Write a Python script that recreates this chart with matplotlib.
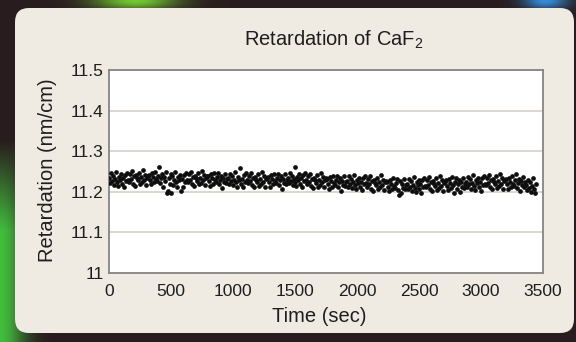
import numpy as np
import matplotlib
matplotlib.use("Agg")
import matplotlib.pyplot as plt
from matplotlib.patches import FancyBboxPatch

plt.rcParams['font.family'] = ['Liberation Sans', 'DejaVu Sans']
plt.rcParams['mathtext.fontset'] = 'custom'
plt.rcParams['mathtext.rm'] = 'Liberation Sans'

# Retardation readings of the CaF2 sample (nm/cm), logged every 8 s
SAMPLE_INTERVAL_S = 8
retardation = [
    11.234, 11.221, 11.246, 11.227, 11.240, 11.217, 11.231, 11.250, 11.224, 11.214, 11.237, 11.230, 11.243, 11.220, 11.233, 11.212, 11.242, 11.226, 11.247, 11.229,
    11.225, 11.244, 11.231, 11.251, 11.220, 11.238, 11.215, 11.241, 11.234, 11.228, 11.247, 11.219, 11.236, 11.223, 11.253, 11.229, 11.242, 11.217, 11.235, 11.239,
    11.242, 11.229, 11.218, 11.246, 11.236, 11.223, 11.250, 11.231, 11.226, 11.239, 11.260, 11.221, 11.233, 11.243, 11.213, 11.237, 11.227, 11.248, 11.197, 11.203,
    11.233, 11.220, 11.245, 11.197, 11.239, 11.216, 11.230, 11.249, 11.223, 11.213, 11.236, 11.229, 11.242, 11.201, 11.232, 11.211, 11.241, 11.225, 11.246, 11.228,
    11.224, 11.243, 11.230, 11.250, 11.219, 11.237, 11.214, 11.240, 11.233, 11.227, 11.246, 11.218, 11.235, 11.222, 11.252, 11.228, 11.241, 11.216, 11.234, 11.238,
    11.239, 11.226, 11.215, 11.243, 11.233, 11.220, 11.247, 11.228, 11.223, 11.236, 11.246, 11.218, 11.230, 11.240, 11.210, 11.234, 11.224, 11.245, 11.221, 11.231,
    11.233, 11.220, 11.245, 11.226, 11.239, 11.216, 11.230, 11.249, 11.223, 11.213, 11.236, 11.229, 11.258, 11.219, 11.232, 11.211, 11.241, 11.225, 11.246, 11.228,
    11.221, 11.240, 11.227, 11.247, 11.216, 11.234, 11.211, 11.237, 11.230, 11.224, 11.243, 11.215, 11.232, 11.219, 11.249, 11.225, 11.238, 11.213, 11.231, 11.235,
    11.237, 11.224, 11.213, 11.241, 11.231, 11.218, 11.245, 11.226, 11.221, 11.234, 11.244, 11.216, 11.228, 11.238, 11.208, 11.232, 11.222, 11.243, 11.219, 11.229,
    11.234, 11.221, 11.246, 11.227, 11.240, 11.217, 11.231, 11.260, 11.224, 11.214, 11.237, 11.230, 11.243, 11.220, 11.233, 11.212, 11.242, 11.226, 11.247, 11.229,
    11.219, 11.238, 11.225, 11.245, 11.214, 11.232, 11.209, 11.235, 11.228, 11.222, 11.241, 11.213, 11.230, 11.217, 11.247, 11.223, 11.236, 11.211, 11.229, 11.233,
    11.232, 11.219, 11.208, 11.236, 11.226, 11.213, 11.240, 11.221, 11.216, 11.229, 11.239, 11.211, 11.223, 11.233, 11.203, 11.227, 11.217, 11.238, 11.214, 11.224,
    11.226, 11.213, 11.238, 11.219, 11.232, 11.209, 11.223, 11.242, 11.216, 11.206, 11.229, 11.222, 11.235, 11.212, 11.225, 11.204, 11.234, 11.218, 11.239, 11.221,
    11.213, 11.232, 11.219, 11.239, 11.208, 11.226, 11.203, 11.229, 11.222, 11.216, 11.235, 11.207, 11.224, 11.211, 11.241, 11.217, 11.230, 11.205, 11.223, 11.227,
    11.225, 11.212, 11.201, 11.229, 11.219, 11.206, 11.233, 11.214, 11.209, 11.222, 11.232, 11.204, 11.192, 11.226, 11.198, 11.220, 11.210, 11.231, 11.207, 11.217,
    11.220, 11.207, 11.232, 11.213, 11.226, 11.203, 11.217, 11.236, 11.210, 11.200, 11.223, 11.216, 11.229, 11.206, 11.219, 11.198, 11.228, 11.212, 11.233, 11.215,
    11.211, 11.230, 11.217, 11.237, 11.206, 11.224, 11.201, 11.227, 11.220, 11.214, 11.233, 11.205, 11.222, 11.209, 11.239, 11.215, 11.228, 11.203, 11.221, 11.225,
    11.228, 11.215, 11.204, 11.232, 11.222, 11.209, 11.236, 11.217, 11.196, 11.225, 11.235, 11.207, 11.219, 11.229, 11.199, 11.223, 11.213, 11.234, 11.210, 11.220,
    11.225, 11.212, 11.237, 11.218, 11.231, 11.208, 11.222, 11.241, 11.215, 11.205, 11.228, 11.221, 11.234, 11.211, 11.224, 11.203, 11.233, 11.217, 11.238, 11.220,
    11.216, 11.235, 11.222, 11.242, 11.211, 11.229, 11.206, 11.232, 11.225, 11.219, 11.238, 11.210, 11.227, 11.214, 11.244, 11.220, 11.233, 11.208, 11.226, 11.230,
    11.231, 11.218, 11.207, 11.235, 11.225, 11.212, 11.239, 11.220, 11.215, 11.228, 11.245, 11.210, 11.222, 11.232, 11.202, 11.226, 11.216, 11.237, 11.213, 11.223,
    11.217, 11.204, 11.229, 11.210, 11.223, 11.200, 11.214, 11.233, 11.207, 11.197, 11.220,
]
time_s = np.arange(len(retardation)) * SAMPLE_INTERVAL_S

x_ticks = [0, 500, 1000, 1500, 2000, 2500, 3000, 3500]
y_ticks = [11.0, 11.1, 11.2, 11.3, 11.4, 11.5]
y_tick_labels = ['11', '11.1', '11.2', '11.3', '11.4', '11.5']

W, H = 576, 342
fig = plt.figure(figsize=(W / 100, H / 100), dpi=100)

# Dark backdrop with coloured glows behind the card
bg = fig.add_axes([0, 0, 1, 1], zorder=-10)
yy, xx = np.mgrid[0:H, 0:W].astype(float)
base = np.array([0.16, 0.11, 0.12])
img = np.ones((H, W, 3)) * base
glows = [
    (np.array([0.26, 0.74, 0.24]), np.clip((yy - 140) / 90, 0, 1) * np.exp(-(xx / 24) ** 2)),
    (np.array([0.45, 0.78, 0.20]), np.exp(-((xx - 135) / 42) ** 2) * np.exp(-(yy / 10) ** 2)),
    (np.array([0.20, 0.55, 0.85]), np.exp(-((xx - 545) / 22) ** 2) * np.exp(-(yy / 9) ** 2)),
]
for col, w in glows:
    w = np.clip(w, 0, 1)[..., None]
    img = img * (1 - w) + col * w
bg.imshow(img, extent=[0, W, H, 0], aspect='auto', interpolation='bilinear')
bg.set_xlim(0, W)
bg.set_ylim(H, 0)
bg.axis('off')

card = FancyBboxPatch((15, 8), 559, 325, boxstyle='round,pad=0,rounding_size=14',
                      facecolor='#efebe3', edgecolor='none')
bg.add_patch(card)

# Scatter plot
ax = fig.add_axes([109 / W, 1 - 273 / H, 434 / W, 203 / H])
ax.set_facecolor('white')
ax.plot(time_s, retardation, 'o', ms=3.4, color='#0e0e0e', markeredgewidth=0, zorder=3)
ax.set_xlim(0, 3500)
ax.set_ylim(11.0, 11.5)
ax.set_xticks(x_ticks)
ax.set_xticklabels([str(v) for v in x_ticks])
ax.set_yticks(y_ticks)
ax.set_yticklabels(y_tick_labels)
ax.yaxis.grid(True, color='#d8d4ce', linewidth=1.3)
ax.set_axisbelow(True)
for s in ax.spines.values():
    s.set_color('#858585')
    s.set_linewidth(1.3)
ax.tick_params(axis='both', length=0, labelsize=12.5, colors='#1e1e1e')
ax.tick_params(axis='x', pad=8)
ax.tick_params(axis='y', pad=4)

fig.text(334 / W, 1 - 40 / H, r'Retardation of CaF$_{2}$', ha='center', va='center',
         fontsize=14.5, color='#1e1e1e')
fig.text(319 / W, 1 - 317 / H, 'Time (sec)', ha='center', va='center',
         fontsize=14.5, color='#1e1e1e')
fig.text(48 / W, 1 - 170 / H, 'Retardation (nm/cm)', ha='center', va='center',
         rotation=90, fontsize=14.5, color='#1e1e1e')

fig.savefig('out.png', dpi=100)
